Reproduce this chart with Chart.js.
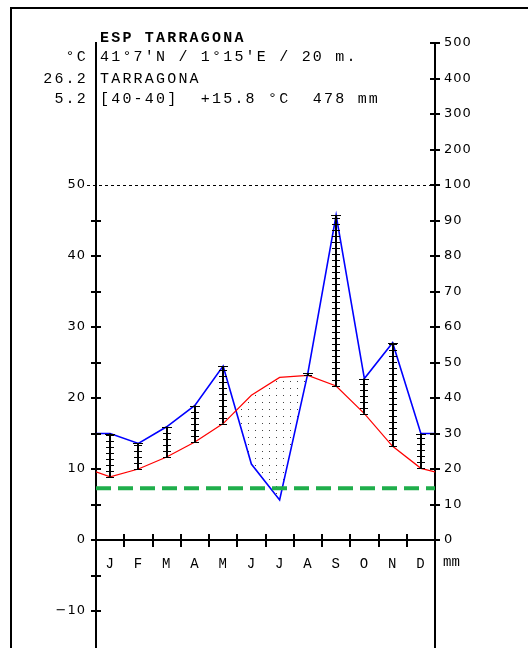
<!DOCTYPE html>
<html><head><meta charset="utf-8">
<script src="https://cdn.jsdelivr.net/npm/chart.js@4.4.0/dist/chart.umd.min.js"></script>
<style>
html,body{margin:0;padding:0;background:#fff;width:528px;height:648px;overflow:hidden;position:relative;}
#frame{position:absolute;left:10px;top:7px;width:600px;height:700px;border-left:2px solid #000;border-top:2px solid #000;}
canvas{position:absolute;left:0;top:0;}
.t{position:absolute;font-family:"Liberation Mono",monospace;font-size:15px;line-height:20px;letter-spacing:2.2px;white-space:pre;color:#000;}
.r{left:0;width:88px;text-align:right;}
.l{left:100px;}
</style></head><body>
<div id="frame"></div>
<canvas id="c" width="528" height="648"></canvas>
<div id="hdr"></div>
<script>
// ---- data ----
const months = ['J','F','M','A','M','J','J','A','S','O','N','D'];
const tempC = [8.9, 10.0, 11.7, 13.8, 16.4, 20.4, 22.9, 23.2, 21.7, 17.8, 13.2, 10.1];
const precipMm = [30, 27.2, 31.9, 37.9, 49, 21.4, 11.3, 47, 91.5, 45.5, 55.6, 30];
const edgeTemp = 9.6;      // value drawn at the left/right edges
const edgePrecip = 30;
const greenLevel = 7.3;    // green dashed reference line (°C scale)
const tempTicks = [-10, 0, 10, 20, 30, 40, 50];
const tempMinorTicks = [-10, -5, 0, 5, 10, 15, 20, 25, 30, 35, 40, 45];
const precipTicks = [0, 10, 20, 30, 40, 50, 60, 70, 80, 90, 100, 200, 300, 400, 500];
const headerLeft = ['', '°C', '26.2', '5.2'];
const headerRight = ['ESP TARRAGONA', "41°7'N / 1°15'E / 20 m.", 'TARRAGONA', '[40-40]  +15.8 °C  478 mm'];

// header text
const hdr = document.getElementById('hdr');
const lineTops = [29, 48, 70, 90];
headerRight.forEach((s, i) => {
  const d = document.createElement('div');
  d.className = 't l'; d.style.top = lineTops[i] + 'px'; d.textContent = s;
  if (i === 0) d.style.fontWeight = 'bold';
  hdr.appendChild(d);
  if (headerLeft[i]) {
    const e = document.createElement('div');
    e.className = 't r'; e.style.top = lineTops[i] + 'px'; e.textContent = headerLeft[i];
    hdr.appendChild(e);
  }
});

const toScale = p => p <= 100 ? p / 2 : 50 + (p - 100) / 20;
const xs = months.map((_, i) => i + 0.5);
const tempData = [{x: 0, y: edgeTemp}].concat(tempC.map((t, i) => ({x: xs[i], y: t})), [{x: 12, y: edgeTemp}]);
const precData = [{x: 0, y: toScale(edgePrecip)}].concat(precipMm.map((p, i) => ({x: xs[i], y: toScale(p)})), [{x: 12, y: toScale(edgePrecip)}]);
const greenData = [{x: 0, y: greenLevel}, {x: 12, y: greenLevel}];

const canvas = document.getElementById('c');
const ctx0 = canvas.getContext('2d');
const pc = document.createElement('canvas'); pc.width = 7; pc.height = 7;
const pg = pc.getContext('2d'); pg.fillStyle = '#444'; pg.fillRect(3, 3, 1, 1);
const dots = ctx0.createPattern(pc, 'repeat');

const walter = {
  id: 'walter',
  beforeDraw(chart) { chart.ctx.letterSpacing = '1px'; },
  beforeDatasetsDraw(chart) {
    const {ctx, chartArea: a, scales: {y}} = chart;
    ctx.save();
    ctx.strokeStyle = '#000'; ctx.lineWidth = 1; ctx.setLineDash([3, 3]);
    const py = Math.round(y.getPixelForValue(50)) + 0.5;
    ctx.beginPath(); ctx.moveTo(a.left - 9, py); ctx.lineTo(a.right, py); ctx.stroke();
    ctx.restore();
  },
  afterDatasetsDraw(chart) {
    const {ctx, scales: {x, y, y2}, chartArea: a} = chart;
    ctx.save();
    ctx.strokeStyle = '#000';
    // humid-period hatching
    months.forEach((m, i) => {
      const top = toScale(precipMm[i]);
      if (top <= tempC[i]) return;
      const px = Math.round(x.getPixelForValue(xs[i]));
      const yb = y.getPixelForValue(tempC[i]);
      const yt = y.getPixelForValue(top);
      ctx.lineWidth = 2;
      ctx.beginPath(); ctx.moveTo(px, yb); ctx.lineTo(px, yt); ctx.stroke();
      ctx.lineWidth = 1;
      ctx.beginPath();
      for (let yy = yb; yy >= yt - 0.5; yy -= 6) {
        const r = Math.round(yy) + 0.5;
        ctx.moveTo(px - 4, r); ctx.lineTo(px + 4, r);
      }
      const rt = Math.round(yt) + 0.5;
      ctx.moveTo(px - 5, rt); ctx.lineTo(px + 5, rt);
      ctx.stroke();
    });
    // axis tick marks (crossing)
    ctx.lineWidth = 2;
    ctx.beginPath();
    tempMinorTicks.forEach(v => {
      const py = Math.round(y.getPixelForValue(v));
      ctx.moveTo(a.left - 5, py); ctx.lineTo(a.left + 5, py);
    });
    precipTicks.forEach(p => {
      const py = Math.round(y2.getPixelForValue(toScale(p)));
      ctx.moveTo(a.right - 5, py); ctx.lineTo(a.right + 5, py);
    });
    const y0 = Math.round(y.getPixelForValue(0));
    for (let i = 1; i < months.length; i++) {
      const px = Math.round(x.getPixelForValue(i));
      ctx.moveTo(px, y0 - 6); ctx.lineTo(px, y0 + 7);
    }
    ctx.stroke();
    // unit label
    ctx.fillStyle = '#000';
    ctx.font = '14px "Liberation Mono"';
    ctx.letterSpacing = '0px';
    ctx.textBaseline = 'middle'; ctx.textAlign = 'left';
    ctx.fillText('mm', a.right + 8, y.getPixelForValue(0) + 22);
    ctx.restore();
  },
  afterDraw(chart) { chart.ctx.letterSpacing = '0px'; }
};

new Chart(canvas, {
  type: 'line',
  data: {
    datasets: [
      {label: 'T', data: tempData, borderColor: '#ff0000', borderWidth: 1.2, pointRadius: 0, tension: 0, fill: false, order: 1},
      {label: 'P', data: precData, borderColor: '#0000ff', borderWidth: 1.6, pointRadius: 0, tension: 0,
        fill: {target: 0, above: 'rgba(0,0,0,0)', below: dots}, order: 2},
      {label: 'G', data: greenData, borderColor: '#1fae4b', borderWidth: 4, borderDash: [15, 7], pointRadius: 0, fill: false, order: 0}
    ]
  },
  options: {
    responsive: false, animation: false, devicePixelRatio: 1,
    layout: {padding: {left: 0, right: 0, top: 43, bottom: 0}},
    plugins: {legend: {display: false}, tooltip: {enabled: false}},
    scales: {
      x: {
        type: 'linear', min: 0, max: 12, position: {y: 0},
        grid: {display: false, drawTicks: false},
        border: {display: true, color: '#000', width: 2},
        afterBuildTicks: s => { s.ticks = xs.map(v => ({value: v})); },
        afterFit: s => { s.paddingLeft = 0; s.paddingRight = 0; },
        ticks: {autoSkip: false, maxRotation: 0, padding: 16, color: '#000',
          font: {family: 'Liberation Mono', size: 14}, callback: (v, i) => months[i]}
      },
      y: {
        type: 'linear', position: 'left', min: -15.2, max: 70,
        grid: {display: false, drawTicks: false},
        border: {display: true, color: '#000', width: 2},
        afterBuildTicks: s => { s.ticks = tempTicks.map(v => ({value: v})); },
        afterFit: s => { s.width = 96; s.paddingTop = 0; s.paddingBottom = 0; },
        ticks: {autoSkip: false, padding: 10, color: '#000',
          font: {family: 'DejaVu Sans', size: 13}, callback: v => String(v).replace('-', '\u2212')}
      },
      y2: {
        type: 'linear', position: 'right', min: -15.2, max: 70,
        grid: {display: false, drawTicks: false},
        border: {display: true, color: '#000', width: 2},
        afterBuildTicks: s => { s.ticks = precipTicks.map(p => ({value: toScale(p)})); },
        afterFit: s => { s.width = 93; s.paddingTop = 0; s.paddingBottom = 0; },
        ticks: {autoSkip: false, padding: 9, color: '#000',
          font: {family: 'DejaVu Sans', size: 13}, callback: (v, i) => String(precipTicks[i])}
      }
    }
  },
  plugins: [walter]
});
</script>
</body></html>
